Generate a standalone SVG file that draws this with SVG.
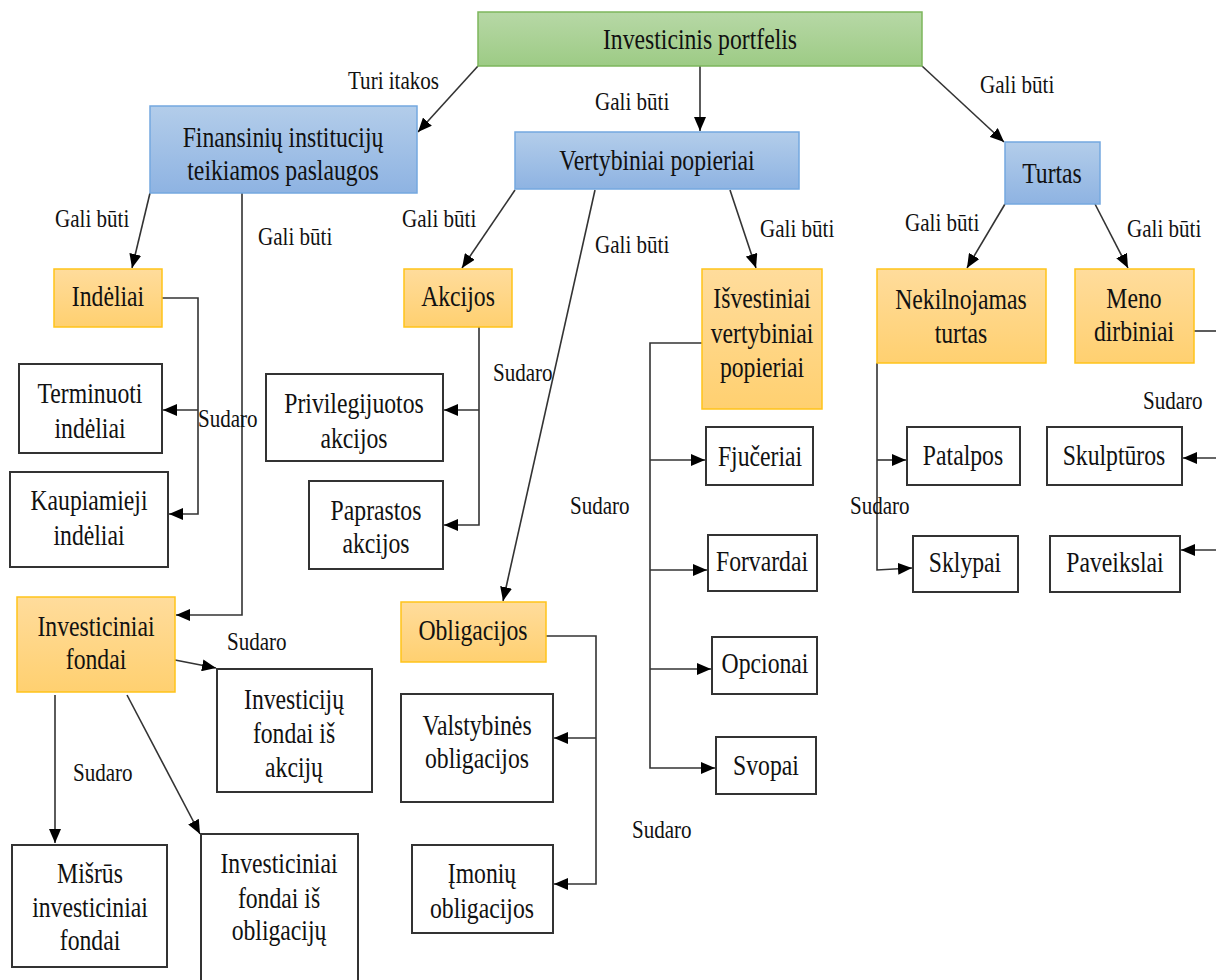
<svg xmlns="http://www.w3.org/2000/svg" width="1216" height="980" viewBox="0 0 1216 980">
<defs>
<linearGradient id="gGreen" x1="0" y1="0" x2="0" y2="1"><stop offset="0" stop-color="#b7d8a6"/><stop offset="1" stop-color="#9dcb85"/></linearGradient>
<linearGradient id="gBlue" x1="0" y1="0" x2="0" y2="1"><stop offset="0" stop-color="#b3cdea"/><stop offset="1" stop-color="#8eb3e2"/></linearGradient>
<linearGradient id="gOrange" x1="0" y1="0" x2="0" y2="1"><stop offset="0" stop-color="#ffdc9c"/><stop offset="1" stop-color="#ffd070"/></linearGradient>
<marker id="arr" markerUnits="userSpaceOnUse" markerWidth="14" markerHeight="12" refX="14" refY="6" orient="auto"><path d="M0,0 L14,6 L0,12 z" fill="#000"/></marker>
</defs>
<style>
.green{fill:url(#gGreen);stroke:#7db65c;stroke-width:1.5}
.blue{fill:url(#gBlue);stroke:#74a8df;stroke-width:1.5}
.orange{fill:url(#gOrange);stroke:#ffc31a;stroke-width:1.5}
.plain{fill:#fff;stroke:#333;stroke-width:2}
.t{font-family:"Liberation Serif","Times New Roman","DejaVu Serif",serif;font-size:30px;fill:#111;text-anchor:middle}
.l{font-family:"Liberation Serif","Times New Roman","DejaVu Serif",serif;font-size:26px;fill:#111}
.c{fill:none;stroke:#333;stroke-width:1.6}
.a{marker-end:url(#arr)}
</style>
<rect width="1216" height="980" fill="#fff"/>
<g id="connectors">
<path class="c a" d="M478,66 L418,132"/>
<path class="c a" d="M700,66 L700,131"/>
<path class="c a" d="M922,66 L1004,142"/>
<path class="c a" d="M150,193 L132,268"/>
<path class="c a" d="M242,193 L242,615 L176,615"/>
<path class="c a" d="M515,190 L462,268"/>
<path class="c a" d="M595,190 L503,601"/>
<path class="c a" d="M730,190 L756,268"/>
<path class="c a" d="M1005,204 L967,268"/>
<path class="c a" d="M1095,204 L1128,268"/>
<path class="c a" d="M162,298 L198,298 L198,514 L169,514"/>
<path class="c a" d="M198,410 L163,410"/>
<path class="c a" d="M479,327 L479,525 L444,525"/>
<path class="c a" d="M479,410 L444,410"/>
<path class="c a" d="M546,636 L596,636 L596,884 L554,884"/>
<path class="c a" d="M596,738 L554,738"/>
<path class="c a" d="M702,343 L650,343 L650,768 L715,768"/>
<path class="c a" d="M650,460 L705,460"/>
<path class="c a" d="M650,570 L707,570"/>
<path class="c a" d="M650,669 L711,669"/>
<path class="c a" d="M877,363 L877,570 L912,568"/>
<path class="c a" d="M877,460 L906,460"/>
<path class="c" d="M1194,331 L1216,331"/>
<path class="c a" d="M1216,458 L1183,458"/>
<path class="c a" d="M1216,550 L1181,550"/>
<path class="c a" d="M175,660 L216,668"/>
<path class="c a" d="M55,695 L55,843"/>
<path class="c a" d="M127,695 L200,834"/>
</g>
<g id="n-root"><rect class="green" x="478" y="12" width="444" height="54"/><text class="t" transform="translate(700,49) scale(0.79,1)">Investicinis portfelis</text></g>
<g id="n-fin"><rect class="blue" x="150" y="106" width="267" height="87"/><text class="t" transform="translate(283,147) scale(0.79,1)">Finansinių institucijų</text><text class="t" transform="translate(283,180) scale(0.79,1)">teikiamos paslaugos</text></g>
<g id="n-vert"><rect class="blue" x="515" y="132" width="284" height="57"/><text class="t" transform="translate(657,170) scale(0.79,1)">Vertybiniai popieriai</text></g>
<g id="n-turtas"><rect class="blue" x="1005" y="142" width="95" height="62"/><text class="t" transform="translate(1052,183) scale(0.79,1)">Turtas</text></g>
<g id="n-indeliai"><rect class="orange" x="54" y="269" width="108" height="58"/><text class="t" transform="translate(108,306) scale(0.79,1)">Indėliai</text></g>
<g id="n-akcijos"><rect class="orange" x="404" y="269" width="108" height="58"/><text class="t" transform="translate(458,306) scale(0.79,1)">Akcijos</text></g>
<g id="n-isvestiniai"><rect class="orange" x="702" y="269" width="120" height="140"/><text class="t" transform="translate(762,308) scale(0.79,1)">Išvestiniai</text><text class="t" transform="translate(762,343) scale(0.79,1)">vertybiniai</text><text class="t" transform="translate(762,377) scale(0.79,1)">popieriai</text></g>
<g id="n-nekiln"><rect class="orange" x="877" y="269" width="169" height="94"/><text class="t" transform="translate(961,309) scale(0.79,1)">Nekilnojamas</text><text class="t" transform="translate(961,343) scale(0.79,1)">turtas</text></g>
<g id="n-meno"><rect class="orange" x="1075" y="269" width="119" height="94"/><text class="t" transform="translate(1134,308) scale(0.79,1)">Meno</text><text class="t" transform="translate(1134,341) scale(0.79,1)">dirbiniai</text></g>
<g id="n-terminuoti"><rect class="plain" x="19" y="364" width="143" height="89"/><text class="t" transform="translate(90,403) scale(0.79,1)">Terminuoti</text><text class="t" transform="translate(90,438) scale(0.79,1)">indėliai</text></g>
<g id="n-kaupiamieji"><rect class="plain" x="10" y="472" width="158" height="95"/><text class="t" transform="translate(89,510) scale(0.79,1)">Kaupiamieji</text><text class="t" transform="translate(89,545) scale(0.79,1)">indėliai</text></g>
<g id="n-privileg"><rect class="plain" x="266" y="374" width="177" height="87"/><text class="t" transform="translate(354,413) scale(0.79,1)">Privilegijuotos</text><text class="t" transform="translate(354,448) scale(0.79,1)">akcijos</text></g>
<g id="n-paprastos"><rect class="plain" x="309" y="481" width="134" height="88"/><text class="t" transform="translate(376,520) scale(0.79,1)">Paprastos</text><text class="t" transform="translate(376,553) scale(0.79,1)">akcijos</text></g>
<g id="n-invfondai"><rect class="orange" x="17" y="597" width="158" height="95"/><text class="t" transform="translate(96,636) scale(0.79,1)">Investiciniai</text><text class="t" transform="translate(96,669) scale(0.79,1)">fondai</text></g>
<g id="n-invakciju"><rect class="plain" x="217" y="669" width="155" height="123"/><text class="t" transform="translate(294,709) scale(0.79,1)">Investicijų</text><text class="t" transform="translate(294,743) scale(0.79,1)">fondai iš</text><text class="t" transform="translate(294,777) scale(0.79,1)">akcijų</text></g>
<g id="n-misrus"><rect class="plain" x="12" y="845" width="155" height="122"/><text class="t" transform="translate(90,883) scale(0.79,1)">Mišrūs</text><text class="t" transform="translate(90,917) scale(0.79,1)">investiciniai</text><text class="t" transform="translate(90,950) scale(0.79,1)">fondai</text></g>
<g id="n-invoblig"><rect class="plain" x="201" y="834" width="157" height="160"/><text class="t" transform="translate(279,873) scale(0.79,1)">Investiciniai</text><text class="t" transform="translate(279,908) scale(0.79,1)">fondai iš</text><text class="t" transform="translate(279,940) scale(0.79,1)">obligacijų</text></g>
<g id="n-oblig"><rect class="orange" x="401" y="602" width="145" height="60"/><text class="t" transform="translate(473,640) scale(0.79,1)">Obligacijos</text></g>
<g id="n-valst"><rect class="plain" x="401" y="694" width="152" height="108"/><text class="t" transform="translate(477,735) scale(0.79,1)">Valstybinės</text><text class="t" transform="translate(477,768) scale(0.79,1)">obligacijos</text></g>
<g id="n-imoniu"><rect class="plain" x="412" y="845" width="141" height="88"/><text class="t" transform="translate(482,883) scale(0.79,1)">Įmonių</text><text class="t" transform="translate(482,918) scale(0.79,1)">obligacijos</text></g>
<g id="n-fjuceriai"><rect class="plain" x="706" y="427" width="107" height="58"/><text class="t" transform="translate(760,466) scale(0.79,1)">Fjučeriai</text></g>
<g id="n-forvardai"><rect class="plain" x="708" y="535" width="109" height="56"/><text class="t" transform="translate(762,571) scale(0.79,1)">Forvardai</text></g>
<g id="n-opcionai"><rect class="plain" x="712" y="637" width="105" height="57"/><text class="t" transform="translate(765,673) scale(0.79,1)">Opcionai</text></g>
<g id="n-svopai"><rect class="plain" x="716" y="737" width="100" height="57"/><text class="t" transform="translate(766,775) scale(0.79,1)">Svopai</text></g>
<g id="n-patalpos"><rect class="plain" x="907" y="427" width="113" height="58"/><text class="t" transform="translate(963,465) scale(0.79,1)">Patalpos</text></g>
<g id="n-sklypai"><rect class="plain" x="913" y="536" width="105" height="56"/><text class="t" transform="translate(965,572) scale(0.79,1)">Sklypai</text></g>
<g id="n-skulpturos"><rect class="plain" x="1047" y="427" width="135" height="58"/><text class="t" transform="translate(1114,465) scale(0.79,1)">Skulptūros</text></g>
<g id="n-paveikslai"><rect class="plain" x="1050" y="536" width="130" height="56"/><text class="t" transform="translate(1115,572) scale(0.79,1)">Paveikslai</text></g>
<g id="labels">
<text class="l" transform="translate(348,89) scale(0.81,1)">Turi itakos</text>
<text class="l" transform="translate(595,110) scale(0.81,1)">Gali būti</text>
<text class="l" transform="translate(980,93) scale(0.81,1)">Gali būti</text>
<text class="l" transform="translate(55,227) scale(0.81,1)">Gali būti</text>
<text class="l" transform="translate(258,245) scale(0.81,1)">Gali būti</text>
<text class="l" transform="translate(402,227) scale(0.81,1)">Gali būti</text>
<text class="l" transform="translate(595,253) scale(0.81,1)">Gali būti</text>
<text class="l" transform="translate(760,237) scale(0.81,1)">Gali būti</text>
<text class="l" transform="translate(905,231) scale(0.81,1)">Gali būti</text>
<text class="l" transform="translate(1127,237) scale(0.81,1)">Gali būti</text>
<text class="l" transform="translate(198,427) scale(0.81,1)">Sudaro</text>
<text class="l" transform="translate(493,381) scale(0.81,1)">Sudaro</text>
<text class="l" transform="translate(570,514) scale(0.81,1)">Sudaro</text>
<text class="l" transform="translate(227,650) scale(0.81,1)">Sudaro</text>
<text class="l" transform="translate(73,781) scale(0.81,1)">Sudaro</text>
<text class="l" transform="translate(632,838) scale(0.81,1)">Sudaro</text>
<text class="l" transform="translate(850,514) scale(0.81,1)">Sudaro</text>
<text class="l" transform="translate(1143,409) scale(0.81,1)">Sudaro</text>
</g>
</svg>
